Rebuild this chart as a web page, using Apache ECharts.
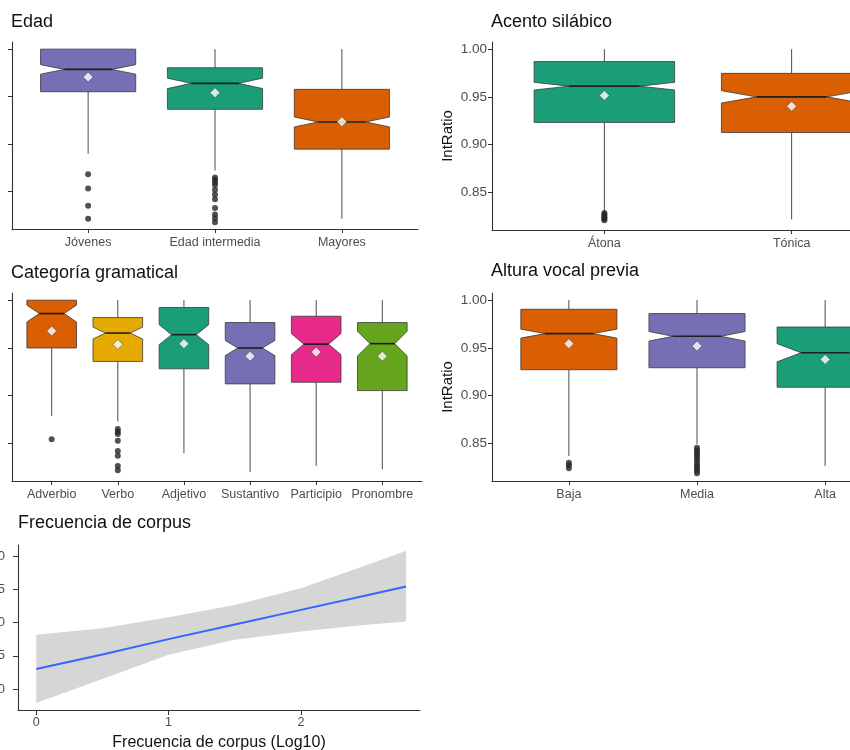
<!DOCTYPE html>
<html>
<head>
<meta charset="utf-8">
<script src="https://cdn.jsdelivr.net/npm/echarts@6/dist/echarts.min.js"></script>
<style>
  html, body { margin: 0; padding: 0; background: #ffffff; }
  #chart { width: 850px; height: 750px; }
</style>
</head>
<body>
<div id="chart"></div>
<script>
// ---------------- DATA ----------------
// Panel 1: Edad
const edadCats = ['Jóvenes', 'Edad intermedia', 'Mayores'];
const edadMin = [0.890, 0.8723, 0.8216];
const edadQ1 = [0.9552, 0.9367, 0.8948];
const edadMed = [0.9787, 0.9640, 0.9234];
const edadQ3 = [1.000, 0.9804, 0.9577];
const edadMax = [1.000, 1.000, 1.000];
const edadNotch = [0.0050, 0.0055, 0.0052];
const edadMean = [0.9706, 0.9541, 0.9236];
const edadOutliers = [
  [0.8685, 0.8534, 0.8353, 0.8216],
  [0.865, 0.8625, 0.860, 0.857, 0.852, 0.847, 0.842, 0.833, 0.826, 0.822, 0.818],
  []
];

// Panel 2: Acento silábico
const acentoCats = ['Átona', 'Tónica'];
const acentoMin = [0.829, 0.8219];
const acentoQ1 = [0.9234, 0.9128];
const acentoMed = [0.9613, 0.9501];
const acentoQ3 = [0.987, 0.9747];
const acentoMax = [1.000, 1.000];
const acentoNotch = [0.0040, 0.0065];
const acentoMean = [0.9515, 0.9402];
const acentoOutliers = [
  [0.8285, 0.827, 0.8255, 0.824, 0.8225, 0.821],
  []
];

// Panel 3: Categoría gramatical
const catCats = ['Adverbio', 'Verbo', 'Adjetivo', 'Sustantivo', 'Participio', 'Pronombre'];
const catMin = [0.879, 0.8731, 0.8399, 0.8202, 0.8266, 0.8231];
const catQ1 = [0.950, 0.9359, 0.9282, 0.9124, 0.9141, 0.9054];
const catMed = [0.986, 0.9656, 0.9639, 0.9499, 0.9540, 0.9545];
const catQ3 = [1.000, 0.9818, 0.9923, 0.9766, 0.9832, 0.9766];
const catMax = [1.000, 1.000, 1.000, 1.000, 1.000, 1.000];
const catNotch = [0.0088, 0.0063, 0.0105, 0.0079, 0.0110, 0.0130];
const catMean = [0.9677, 0.9537, 0.9545, 0.9414, 0.9457, 0.9414];
const catOutliers = [
  [0.8546],
  [0.8651, 0.8623, 0.8599, 0.8528, 0.8423, 0.8371, 0.8266, 0.8220],
  [], [], [], []
];

// Panel 4: Altura vocal previa
const alturaCats = ['Baja', 'Media', 'Alta'];
const alturaMin = [0.837, 0.8494, 0.8266];
const alturaQ1 = [0.9272, 0.9293, 0.9089];
const alturaMed = [0.965, 0.9622, 0.945];
const alturaQ3 = [0.9905, 0.986, 0.9719];
const alturaMax = [1.000, 1.000, 1.000];
const alturaNotch = [0.0047, 0.0050, 0.0095];
const alturaMean = [0.9545, 0.952, 0.938];
const alturaOutliers = [
  [0.830, 0.8273, 0.8241],
  [0.8455, 0.843, 0.8405, 0.838, 0.8355, 0.8325, 0.8295, 0.8265, 0.824, 0.8215, 0.819],
  []
];

// Panel 5: Frecuencia de corpus
const freqX = [0, 0.5, 1, 1.5, 2, 2.5, 2.795];
const freqFit = [0.9430, 0.9452, 0.9475, 0.9497, 0.9519, 0.9541, 0.9554];
const freqUpper = [0.94815, 0.94915, 0.9508, 0.95265, 0.95515, 0.95865, 0.9608];
const freqLower = [0.9379, 0.9415, 0.94515, 0.9474, 0.94865, 0.94965, 0.95015];
const freqYTicks = [0.940, 0.945, 0.950, 0.955, 0.960];
const freqXTicks = [0, 1, 2];

const ratioTicks = [0.85, 0.90, 0.95, 1.00];

// ---------------- STYLE ----------------
const C = { green: '#1B9E77', orange: '#D95F02', purple: '#7570B3', pink: '#E7298A', lime: '#66A61E', yellow: '#E6AB02' };
const edadColors = [C.purple, C.green, C.orange];
const acentoColors = [C.green, C.orange];
const catColors = [C.orange, C.yellow, C.green, C.purple, C.pink, C.lime];
const alturaColors = [C.orange, C.purple, C.green];

const FONT = '"Liberation Sans", Arial, Helvetica, sans-serif';
const BOX_W = 0.75;
const Y_MIN = 0.8108, Y_MAX = 1.0075;

const grids = [], xAxes = [], yAxes = [], series = [];
const axisLineStyle = { show: true, onZero: false, lineStyle: { color: '#333', width: 1.1 } };
const gridBase = { containLabel: false, outerBoundsMode: 'none' };

function boxPanel(idx, grid, cats, mn, q1, md, q3, mx, notch, mean, outl, colors, showYLabels) {
  grids.push(Object.assign({}, gridBase, grid));
  const pos = cats.map((_, k) => k);
  xAxes.push({
    gridIndex: idx, type: 'value', min: -0.6, max: cats.length - 1 + 0.6,
    axisLine: axisLineStyle,
    axisTick: { show: true, customValues: pos, length: 4, lineStyle: { color: '#333' } },
    axisLabel: { show: true, customValues: pos, formatter: v => cats[Math.round(v)] || '',
      color: '#4D4D4D', fontSize: 12.5, margin: 7, fontFamily: FONT, hideOverlap: false },
    splitLine: { show: false }
  });
  yAxes.push({
    gridIndex: idx, type: 'value', min: Y_MIN, max: Y_MAX,
    name: showYLabels ? 'IntRatio' : '', nameLocation: 'middle', nameGap: 37,
    nameTextStyle: { fontSize: 15, color: '#111', fontFamily: FONT },
    axisLine: axisLineStyle,
    axisTick: { show: true, customValues: ratioTicks, length: 4, lineStyle: { color: '#333' } },
    axisLabel: { show: showYLabels, customValues: ratioTicks, formatter: v => v.toFixed(2),
      color: '#4D4D4D', fontSize: 13.5, margin: 5, fontFamily: FONT },
    splitLine: { show: false }
  });
  const boxData = cats.map((_, k) => ({
    value: [k, mn[k], q1[k], md[k], q3[k], mx[k], notch[k]],
    itemStyle: { color: colors[k] }
  }));
  series.push({
    type: 'custom', xAxisIndex: idx, yAxisIndex: idx, clip: false, silent: true,
    data: boxData,
    renderItem: function (params, api) {
      const x = api.value(0), vmin = api.value(1), vq1 = api.value(2), vmd = api.value(3),
            vq3 = api.value(4), vmax = api.value(5), nh = api.value(6);
      const h = BOX_W / 2, ins = BOX_W * 0.25;
      const p = (a, b) => api.coord([a, b]);
      const fill = api.visual('color');
      const pts = [
        p(x - h, vq3), p(x - h, vmd + nh), p(x - h + ins, vmd), p(x - h, vmd - nh), p(x - h, vq1),
        p(x + h, vq1), p(x + h, vmd - nh), p(x + h - ins, vmd), p(x + h, vmd + nh), p(x + h, vq3)
      ];
      const wStyle = { stroke: '#4a4a4a', lineWidth: 1 };
      const a1 = p(x, vq3), a2 = p(x, vmax), b1 = p(x, vq1), b2 = p(x, vmin);
      const m1 = p(x - h + ins, vmd), m2 = p(x + h - ins, vmd);
      return {
        type: 'group',
        children: [
          { type: 'line', shape: { x1: a1[0], y1: a1[1], x2: a2[0], y2: a2[1] }, style: wStyle },
          { type: 'line', shape: { x1: b1[0], y1: b1[1], x2: b2[0], y2: b2[1] }, style: wStyle },
          { type: 'polygon', shape: { points: pts }, style: { fill: fill, stroke: '#3a3a3a', lineWidth: 0.8 } },
          { type: 'line', shape: { x1: m1[0], y1: m1[1], x2: m2[0], y2: m2[1] }, style: { stroke: '#1f1f1f', lineWidth: 1.6 } }
        ]
      };
    },
    z: 2
  });
  const outData = [];
  outl.forEach((arr, k) => arr.forEach(v => outData.push([k, v])));
  series.push({
    type: 'scatter', xAxisIndex: idx, yAxisIndex: idx, data: outData, symbol: 'circle', symbolSize: 6,
    itemStyle: { color: '#262626' }, silent: true, z: 3
  });
  series.push({
    type: 'scatter', xAxisIndex: idx, yAxisIndex: idx, data: mean.map((v, k) => [k, v]),
    symbol: 'diamond', symbolSize: 10,
    itemStyle: { color: '#ffffff', borderColor: '#333', borderWidth: 0.6 }, silent: true, z: 4
  });
}

boxPanel(0, { left: 12, top: 42, width: 406, height: 187 }, edadCats, edadMin, edadQ1, edadMed, edadQ3, edadMax, edadNotch, edadMean, edadOutliers, edadColors, false);
boxPanel(1, { left: 492, top: 42, width: 412, height: 188 }, acentoCats, acentoMin, acentoQ1, acentoMed, acentoQ3, acentoMax, acentoNotch, acentoMean, acentoOutliers, acentoColors, true);
boxPanel(2, { left: 12, top: 293, width: 410, height: 188 }, catCats, catMin, catQ1, catMed, catQ3, catMax, catNotch, catMean, catOutliers, catColors, false);
boxPanel(3, { left: 492, top: 293, width: 410, height: 188 }, alturaCats, alturaMin, alturaQ1, alturaMed, alturaQ3, alturaMax, alturaNotch, alturaMean, alturaOutliers, alturaColors, true);

// Panel 5
grids.push(Object.assign({}, gridBase, { left: 18, top: 545, width: 402, height: 165 }));
xAxes.push({
  gridIndex: 4, type: 'value', min: -0.138, max: 2.9,
  name: 'Frecuencia de corpus (Log10)', nameLocation: 'middle', nameGap: 25,
  nameTextStyle: { fontSize: 16, color: '#111', fontFamily: FONT },
  axisLine: axisLineStyle,
  axisTick: { show: true, customValues: freqXTicks, length: 5, lineStyle: { color: '#333' } },
  axisLabel: { customValues: freqXTicks, formatter: v => String(Math.round(v)), color: '#4D4D4D', fontSize: 12.5, margin: 6, fontFamily: FONT },
  splitLine: { show: false }
});
yAxes.push({
  gridIndex: 4, type: 'value', min: 0.93685, max: 0.96165,
  axisLine: axisLineStyle,
  axisTick: { show: true, customValues: freqYTicks, length: 5, lineStyle: { color: '#333' } },
  axisLabel: { customValues: freqYTicks, formatter: v => v.toFixed(3), color: '#4D4D4D', fontSize: 13, margin: 13, fontFamily: FONT },
  splitLine: { show: false }
});
series.push({
  type: 'custom', xAxisIndex: 4, yAxisIndex: 4, silent: true, clip: false,
  data: [[0]],
  renderItem: function (params, api) {
    const pts = [];
    freqX.forEach((x, i) => pts.push(api.coord([x, freqUpper[i]])));
    for (let i = freqX.length - 1; i >= 0; i--) pts.push(api.coord([freqX[i], freqLower[i]]));
    return { type: 'polygon', shape: { points: pts }, style: { fill: '#D6D6D6' } };
  },
  z: 1
});
series.push({
  type: 'line', xAxisIndex: 4, yAxisIndex: 4, data: freqX.map((x, i) => [x, freqFit[i]]),
  symbol: 'none', smooth: false, lineStyle: { color: '#3366FF', width: 2 }, silent: true, z: 3
});

const titleStyle = { fontSize: 18, fontWeight: 'normal', color: '#111', fontFamily: FONT };
const titles = [
  { text: 'Edad', left: 11, top: 13 },
  { text: 'Acento silábico', left: 491, top: 13 },
  { text: 'Categoría gramatical', left: 11, top: 264 },
  { text: 'Altura vocal previa', left: 491, top: 262 },
  { text: 'Frecuencia de corpus', left: 18, top: 514 }
].map(t => Object.assign({ padding: 0, textStyle: titleStyle }, t));

const chart = echarts.init(document.getElementById('chart'), null, { renderer: 'canvas' });
chart.setOption({
  backgroundColor: '#ffffff',
  animation: false,
  textStyle: { fontFamily: FONT },
  title: titles,
  grid: grids,
  xAxis: xAxes,
  yAxis: yAxes,
  series: series
});
</script>
</body>
</html>
